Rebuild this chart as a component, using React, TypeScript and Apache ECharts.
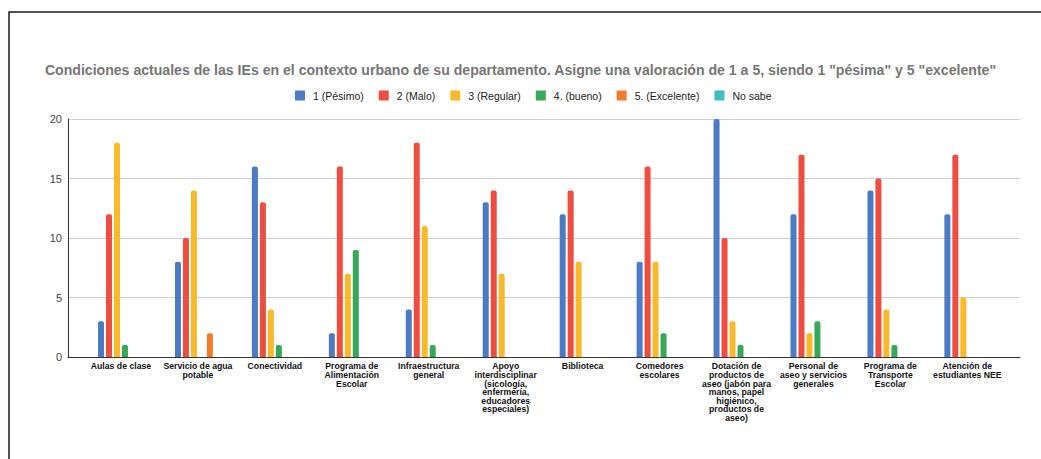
import React, { useEffect, useRef } from "react";
import * as echarts from "echarts";

const TITLE =
  'Condiciones actuales de las IEs en el contexto urbano de su departamento. Asigne una valoración de 1 a 5, siendo 1 "pésima" y 5 "excelente"';

const categories = [
  "Aulas de clase",
  "Servicio de agua\npotable",
  "Conectividad",
  "Programa de\nAlimentación\nEscolar",
  "Infraestructura\ngeneral",
  "Apoyo\ninterdisciplinar\n(sicología,\nenfermería,\neducadores\nespeciales)",
  "Biblioteca",
  "Comedores\nescolares",
  "Dotación de\nproductos de\naseo (jabón para\nmanos, papel\nhigiénico,\nproductos de\naseo)",
  "Personal de\naseo y servicios\ngenerales",
  "Programa de\nTransporte\nEscolar",
  "Atención de\nestudiantes NEE",
];

const seriesNames = ["1 (Pésimo)", "2 (Malo)", "3 (Regular)", "4. (bueno)", "5. (Excelente)", "No sabe"];

const pesimo = [3, 8, 16, 2, 4, 13, 12, 8, 20, 12, 14, 12];
const malo = [12, 10, 13, 16, 18, 14, 14, 16, 10, 17, 15, 17];
const regular = [18, 14, 4, 7, 11, 7, 8, 8, 3, 2, 4, 5];
const bueno = [1, 0, 1, 9, 1, 0, 0, 2, 1, 3, 1, 0];
const excelente = [0, 2, 0, 0, 0, 0, 0, 0, 0, 0, 0, 0];
const noSabe = [0, 0, 0, 0, 0, 0, 0, 0, 0, 0, 0, 0];

const yTicks = { min: 0, max: 20, interval: 5 };

const colors = ["#4a7bc4", "#ee4d3f", "#f9b92a", "#36a85a", "#f47a2c", "#3ebdc6"];

const FONT = '"Liberation Sans", Arial, sans-serif';

export default function App() {
  const ref = useRef<HTMLDivElement>(null);
  useEffect(() => {
    if (!ref.current) return;
    const chart = echarts.init(ref.current, undefined, { renderer: "svg" });
    const allData = [pesimo, malo, regular, bueno, excelente, noSabe];
    chart.setOption({
      animation: false,
      backgroundColor: "#ffffff",
      textStyle: { fontFamily: FONT },
      title: {
        text: TITLE,
        left: "center",
        top: 58,
        padding: 5,
        textStyle: { fontSize: 14.1, fontWeight: "bold", color: "#767676", fontFamily: FONT },
      },
      legend: {
        left: 290,
        top: 85,
        itemWidth: 10,
        itemHeight: 10,
        itemGap: 15,
        icon: "rect",
        textStyle: { fontSize: 10.5, color: "#222", fontFamily: FONT, padding: [0, 0, 0, 3] },
        data: seriesNames,
      },
      graphic: [
        {
          type: "polyline",
          shape: { points: [[9, 459], [9, 12], [1041, 12]] },
          style: { stroke: "#1a1a1a", lineWidth: 1.5, fill: "none" },
          silent: true,
        },
      ],
      grid: [
        { left: 68, right: 21, top: 119, bottom: 102 },
        { left: 82.5, right: 35.2, top: 119, bottom: 102 },
      ],
      xAxis: [
        {
          type: "value",
          gridIndex: 0,
          min: 0,
          max: 1,
          axisLine: { show: true, onZero: false, lineStyle: { color: "#333", width: 1 } },
          axisTick: { show: false },
          axisLabel: { show: false },
          splitLine: { show: false },
        },
        {
          type: "category",
          gridIndex: 1,
          data: categories,
          axisLine: { show: false },
          axisTick: { show: false },
          axisLabel: {
            interval: 0,
            margin: 5,
            fontSize: 8.7,
            lineHeight: 8.6,
            fontWeight: "bold",
            color: "#111",
            align: "center",
            fontFamily: FONT,
          },
        },
      ],
      yAxis: [
        {
          type: "value",
          gridIndex: 0,
          min: yTicks.min,
          max: yTicks.max,
          interval: yTicks.interval,
          axisLine: { show: true, lineStyle: { color: "#333", width: 1 } },
          axisTick: { show: false },
          axisLabel: { fontSize: 11, color: "#444", margin: 6, fontFamily: FONT },
          splitLine: { show: true, lineStyle: { color: "#cfcfcf", width: 1 } },
        },
        {
          type: "value",
          gridIndex: 1,
          min: yTicks.min,
          max: yTicks.max,
          interval: yTicks.interval,
          show: false,
          splitLine: { show: false },
        },
      ],
      series: seriesNames.map((name, i) => ({
        name,
        type: "bar",
        xAxisIndex: 1,
        yAxisIndex: 1,
        data: allData[i],
        barWidth: 6,
        barGap: "33%",
        itemStyle: { color: colors[i], borderRadius: [2, 2, 0, 0] },
      })),
    });
    return () => chart.dispose();
  }, []);
  return (
    <div
      ref={ref}
      style={{ position: "absolute", left: 0, top: 0, width: 1041, height: 459 }}
    />
  );
}
